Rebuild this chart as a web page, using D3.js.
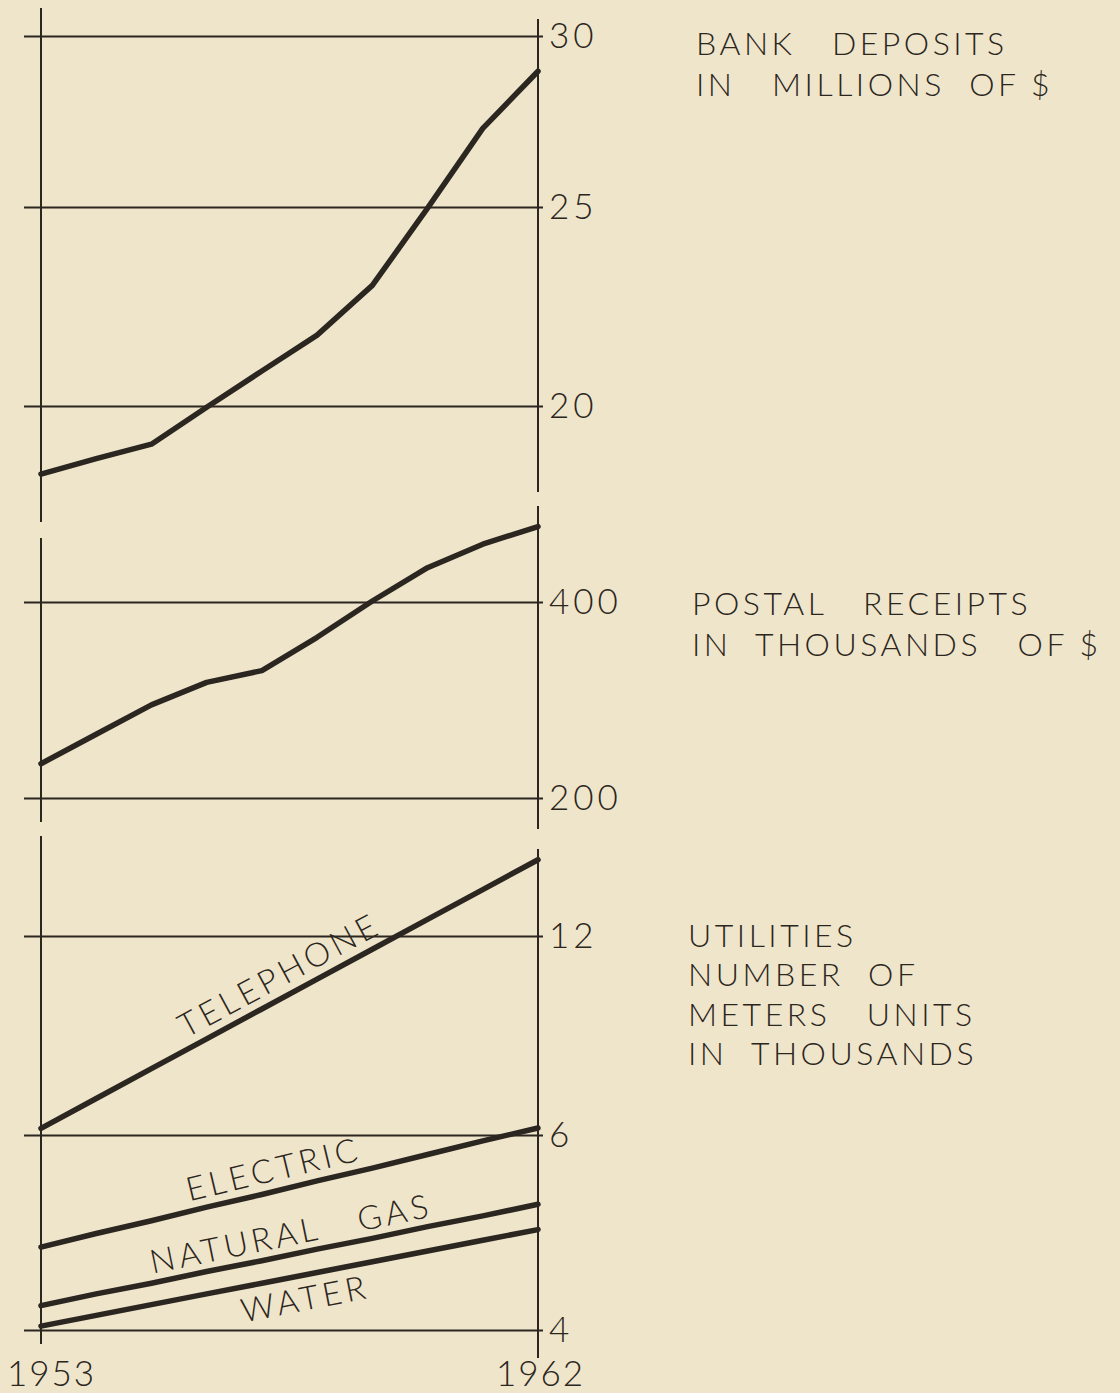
<!DOCTYPE html>
<html lang="en">
<head>
<meta charset="UTF-8">
<title>Bank deposits, postal receipts and utilities 1953-1962</title>
<script src="https://d3js.org/d3.v7.min.js"></script>
<style>
  body { margin: 0; background: #efe5cb; }
  svg text { font-family: Lato, "Open Sans", "DejaVu Sans", sans-serif; font-weight: 300; fill: #2b2620; white-space: pre; }
</style>
</head>
<body>
<div id="chart"></div>
<script>

// data
const years = [1953, 1954, 1955, 1956, 1957, 1958, 1959, 1960, 1961, 1962];
const bankDeposits = [18.29, 18.68, 19.04, 19.97, 20.88, 21.78, 23.03, 24.97, 27.30, 28.97];
const postalReceipts = [235, 265, 295, 318, 330, 364, 401, 435, 459, 477];
const telephone = [6.2, 7.1, 8.0, 8.9, 9.8, 10.7, 11.6, 12.5, 13.4, 14.3];
const electric = [4.85, 4.99, 5.12, 5.26, 5.39, 5.53, 5.66, 5.80, 5.94, 6.21];
const naturalGas = [4.25, 4.37, 4.48, 4.60, 4.71, 4.83, 4.94, 5.06, 5.17, 5.29];
const water = [4.04, 4.15, 4.26, 4.37, 4.48, 4.59, 4.70, 4.81, 4.92, 5.03];

const bankTicks = [20, 25, 30];
const postalTicks = [200, 400];
const utilTicks = [4, 6, 12];
const yearTicks = [1953, 1962];

const ink = "#2b2620";
const width = 1120, height = 1393;

const svg = d3.select("#chart")
  .append("svg")
    .attr("width", width)
    .attr("height", height);

svg.append("rect")
  .attr("width", width)
  .attr("height", height)
  .attr("fill", "#efe5cb");

// shared x scale (years)
const x = d3.scaleLinear()
  .domain([1953, 1962])
  .range([41, 538]);

// one y scale per panel, gridlines are not evenly valued so use piecewise domains
const yBank = d3.scaleLinear().domain(bankTicks).range([406, 207, 36]);
const yPostal = d3.scaleLinear().domain(postalTicks).range([798, 602]);
const yUtil = d3.scaleLinear().domain(utilTicks).range([1330, 1135, 936]);

// vertical frame lines, broken between panels
const leftSegs = [[8, 522], [538, 822], [836, 1344]];
const rightSegs = [[19, 492], [506, 829], [849, 1358]];

svg.append("g").selectAll("line")
  .data(leftSegs)
  .join("line")
    .attr("x1", x(1953)).attr("x2", x(1953))
    .attr("y1", d => d[0]).attr("y2", d => d[1])
    .attr("stroke", ink).attr("stroke-width", 2);

svg.append("g").selectAll("line")
  .data(rightSegs)
  .join("line")
    .attr("x1", x(1962)).attr("x2", x(1962))
    .attr("y1", d => d[0]).attr("y2", d => d[1])
    .attr("stroke", ink).attr("stroke-width", 2);

// gridlines + labels on the right side
function gridAxis(scale, ticks) {
  const g = svg.append("g")
    .attr("transform", `translate(${x(1962) + 5},0)`)
    .call(d3.axisRight(scale)
      .tickValues(ticks)
      .tickSize(-(x(1962) + 5 - 24))
      .tickSizeOuter(0)
      .tickPadding(6));
  g.select(".domain").remove();
  g.selectAll(".tick line").attr("stroke", ink).attr("stroke-width", 2);
  g.selectAll(".tick text")
    .attr("font-size", 35)
    .attr("letter-spacing", 4)
    .attr("fill", ink)
    .attr("font-family", null);
}
gridAxis(yBank, bankTicks);
gridAxis(yPostal, postalTicks);
gridAxis(yUtil, utilTicks);

// year labels
const xAxis = svg.append("g")
  .attr("transform", "translate(0,1358)")
  .call(d3.axisBottom(x).tickValues(yearTicks).tickSize(0).tickFormat(d3.format("d")));
xAxis.select(".domain").remove();
xAxis.selectAll(".tick text")
  .attr("font-size", 35)
  .attr("letter-spacing", 2)
  .attr("font-family", null)
  .attr("fill", ink)
  .attr("x", d => d === 1953 ? 10 : 2)
  .attr("y", 28)
  .attr("dy", 0);

// series lines
function drawSeries(values, scale) {
  const line = d3.line()
    .x((d, i) => x(years[i]))
    .y(d => scale(d));
  svg.append("path")
    .datum(values)
    .attr("d", line)
    .attr("fill", "none")
    .attr("stroke", ink)
    .attr("stroke-width", 5.5)
    .attr("stroke-linecap", "round")
    .attr("stroke-linejoin", "round");
}
drawSeries(bankDeposits, yBank);
drawSeries(postalReceipts, yPostal);
drawSeries(telephone, yUtil);
drawSeries(electric, yUtil);
drawSeries(naturalGas, yUtil);
drawSeries(water, yUtil);

// labels written along the utility lines
function lineLabel(values, scale, label, atYear, offset) {
  const x0 = x(years[0]), y0 = scale(values[0]);
  const x1 = x(years[years.length - 1]), y1 = scale(values[values.length - 1]);
  const angle = Math.atan2(y1 - y0, x1 - x0) * 180 / Math.PI;
  const px = x(atYear);
  const py = y0 + (y1 - y0) * (px - x0) / (x1 - x0);
  svg.append("text")
    .attr("transform", `translate(${px},${py}) rotate(${angle})`)
    .attr("text-anchor", "middle")
    .attr("dy", offset)
    .attr("font-size", 33)
    .attr("letter-spacing", 4)
    .text(label);
}
lineLabel(telephone, yUtil, "TELEPHONE", 1957.5, -10);
lineLabel(electric, yUtil, "ELECTRIC", 1957.3, -10);
lineLabel(naturalGas, yUtil, "NATURAL   GAS", 1957.6, -9);
lineLabel(water, yUtil, "WATER", 1957.7, 35);

// panel titles
const titles = [
  {x: 696, y: 55, lines: ["BANK   DEPOSITS", "IN   MILLIONS  OF $"]},
  {x: 692, y: 615, lines: ["POSTAL   RECEIPTS", "IN  THOUSANDS   OF $"]},
  {x: 688, y: 947, lines: ["UTILITIES", "NUMBER  OF", "METERS   UNITS", "IN  THOUSANDS"]}
];
titles.forEach(t => {
  const txt = svg.append("text")
    .attr("x", t.x)
    .attr("y", t.y)
    .attr("font-size", 32)
    .attr("letter-spacing", 3.5);
  txt.selectAll("tspan")
    .data(t.lines)
    .join("tspan")
      .attr("x", t.x)
      .attr("dy", (d, i) => i === 0 ? 0 : (t.lines.length > 2 ? 39.3 : 41))
      .text(d => d);
});

</script>
</body>
</html>
